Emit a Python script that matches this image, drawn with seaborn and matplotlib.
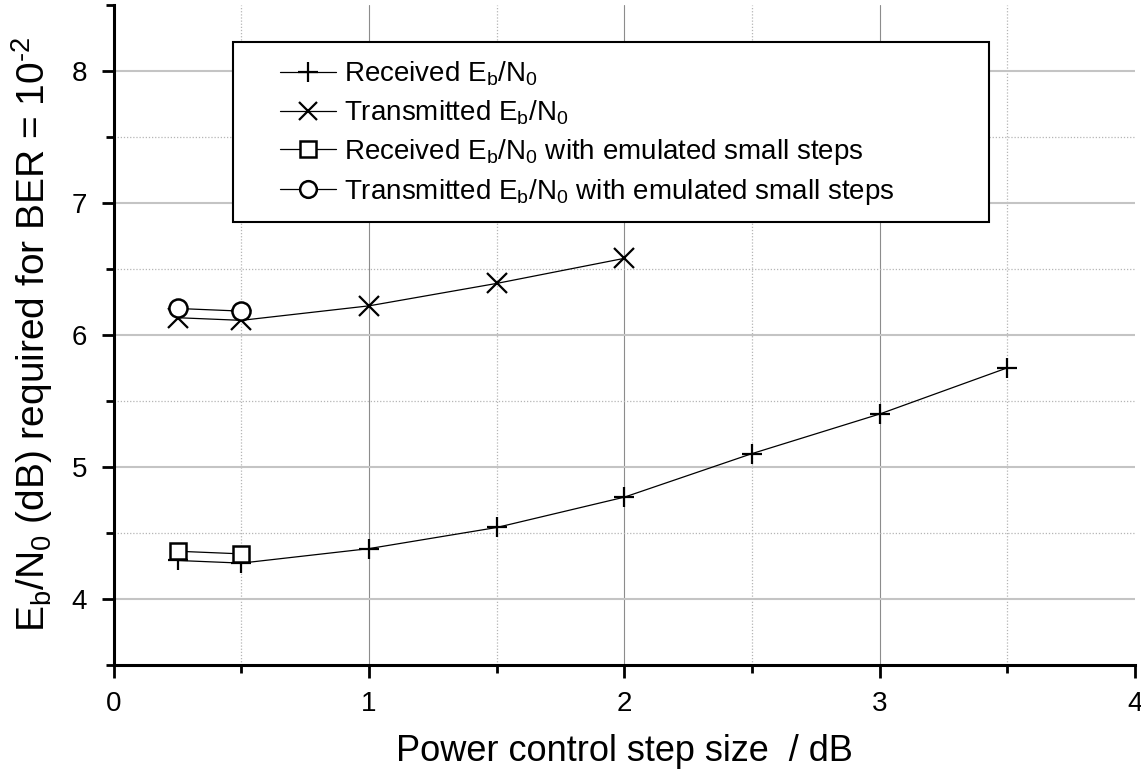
import numpy as np
import pandas as pd
import seaborn as sns
import matplotlib
matplotlib.use('Agg')
import matplotlib.pyplot as plt
from matplotlib.ticker import FixedLocator
from matplotlib.patches import Rectangle
from matplotlib.lines import Line2D

# ---- data ----
step_rx = [0.25, 0.5, 1.0, 1.5, 2.0, 2.5, 3.0, 3.5]
rx_ebn0 = [4.29, 4.27, 4.38, 4.54, 4.77, 5.10, 5.40, 5.75]
step_tx = [0.25, 0.5, 1.0, 1.5, 2.0]
tx_ebn0 = [6.13, 6.11, 6.22, 6.39, 6.58]
step_emu = [0.25, 0.5]
rx_emu = [4.36, 4.34]
tx_emu = [6.20, 6.18]
labels = [r'Received E$_{\rm b}$/N$_0$',
          r'Transmitted E$_{\rm b}$/N$_0$',
          r'Received E$_{\rm b}$/N$_0$ with emulated small steps',
          r'Transmitted E$_{\rm b}$/N$_0$ with emulated small steps']
xticks = [0, 1, 2, 3, 4]
yticks = [4, 5, 6, 7, 8]

sns.set_theme(style='white')
plt.rcParams['font.family'] = ['Liberation Sans', 'DejaVu Sans']
plt.rcParams['mathtext.fontset'] = 'custom'
plt.rcParams['mathtext.rm'] = 'Liberation Sans'
plt.rcParams['mathtext.it'] = 'Liberation Sans:italic'
plt.rcParams['mathtext.default'] = 'regular'
plt.rcParams['text.color'] = 'black'
plt.rcParams['axes.labelcolor'] = 'black'
plt.rcParams['xtick.color'] = 'black'
plt.rcParams['ytick.color'] = 'black'

fig = plt.figure(figsize=(11.41, 7.73), dpi=100)
ax = fig.add_axes([0.0997, 0.1401, 0.8950, 0.8534])

# grid
for v in [1, 2, 3]:
    ax.axvline(v, color='#8c8c8c', lw=0.8, zorder=0)
for v in [0.5, 1.5, 2.5, 3.5]:
    ax.axvline(v, color='#b5b5b5', lw=0.9, ls=(0, (1, 1.5)), zorder=0)
for v in yticks:
    ax.axhline(v, color='#c4c4c4', lw=1.5, zorder=0)
for v in [4.5, 5.5, 6.5, 7.5]:
    ax.axhline(v, color='#b5b5b5', lw=0.9, ls=(0, (1, 1.5)), zorder=0)

common = dict(ax=ax, color='black', lw=0.9, markeredgecolor='black')
sns.lineplot(x=step_rx, y=rx_ebn0, marker='+', markersize=15, markeredgewidth=1.6, **common)
sns.lineplot(x=step_tx, y=tx_ebn0, marker='x', markersize=14, markeredgewidth=1.6, **common)
sns.lineplot(x=step_emu, y=rx_emu, marker='s', markersize=12, markeredgewidth=1.8,
             markerfacecolor='white', **common)
sns.lineplot(x=step_emu, y=tx_emu, marker='o', markersize=13, markeredgewidth=1.8,
             markerfacecolor='white', **common)

ax.set_xlim(0, 4)
ax.set_ylim(3.5, 8.5)
ax.xaxis.set_major_locator(FixedLocator(xticks))
ax.xaxis.set_minor_locator(FixedLocator([0.5, 1.5, 2.5, 3.5]))
ax.yaxis.set_major_locator(FixedLocator(yticks))
ax.yaxis.set_minor_locator(FixedLocator([3.5, 4.5, 5.5, 6.5, 7.5, 8.5]))
ax.set_xticklabels([str(t) for t in xticks], fontsize=20, color='black')
ax.set_yticklabels([str(t) for t in yticks], fontsize=20, color='black')
ax.tick_params(axis='both', which='major', direction='out', length=9, width=2,
               color='black', pad=10, bottom=True, left=True)
ax.tick_params(axis='both', which='minor', direction='out', length=6, width=2,
               color='black', bottom=True, left=True)

for s in ['top', 'right']:
    ax.spines[s].set_visible(False)
for s in ['left', 'bottom']:
    ax.spines[s].set_linewidth(2.2)
    ax.spines[s].set_color('black')
ax.set_facecolor('white')

ax.set_xlabel('Power control step size  / dB', fontsize=26, color='black', labelpad=12)
ax.set_ylabel(r'E$_{\rm b}$/N$_0$ (dB) required for BER = 10$^{\text{-}2}$', fontsize=28,
              color='black', labelpad=12)

# legend box
rect = Rectangle((233 / 1141, 1 - 222 / 773), (989 - 233) / 1141, (222 - 42) / 773,
                 transform=fig.transFigure, facecolor='white', edgecolor='black',
                 lw=1.5, zorder=4, clip_on=False)
ax.add_patch(rect)

handles = [
    Line2D([], [], color='black', lw=0.9, marker='+', markersize=14, markeredgewidth=1.6),
    Line2D([], [], color='black', lw=0.9, marker='x', markersize=13, markeredgewidth=1.6),
    Line2D([], [], color='black', lw=0.9, marker='s', markersize=11, markeredgewidth=1.8,
           markerfacecolor='white'),
    Line2D([], [], color='black', lw=0.9, marker='o', markersize=12, markeredgewidth=1.8,
           markerfacecolor='white'),
]
leg = ax.legend(handles, labels, loc='upper left', bbox_to_anchor=(280 / 1141, 1 - 60 / 773),
                bbox_transform=fig.transFigure, frameon=False,
                handlelength=2.0, handletextpad=0.3, labelspacing=0.36, borderpad=0,
                borderaxespad=0, prop={'family': ['Liberation Sans'], 'size': 20})
for t in leg.get_texts():
    t.set_color('black')
leg.set_zorder(5)

fig.savefig('out.png', dpi=100, facecolor='white')
